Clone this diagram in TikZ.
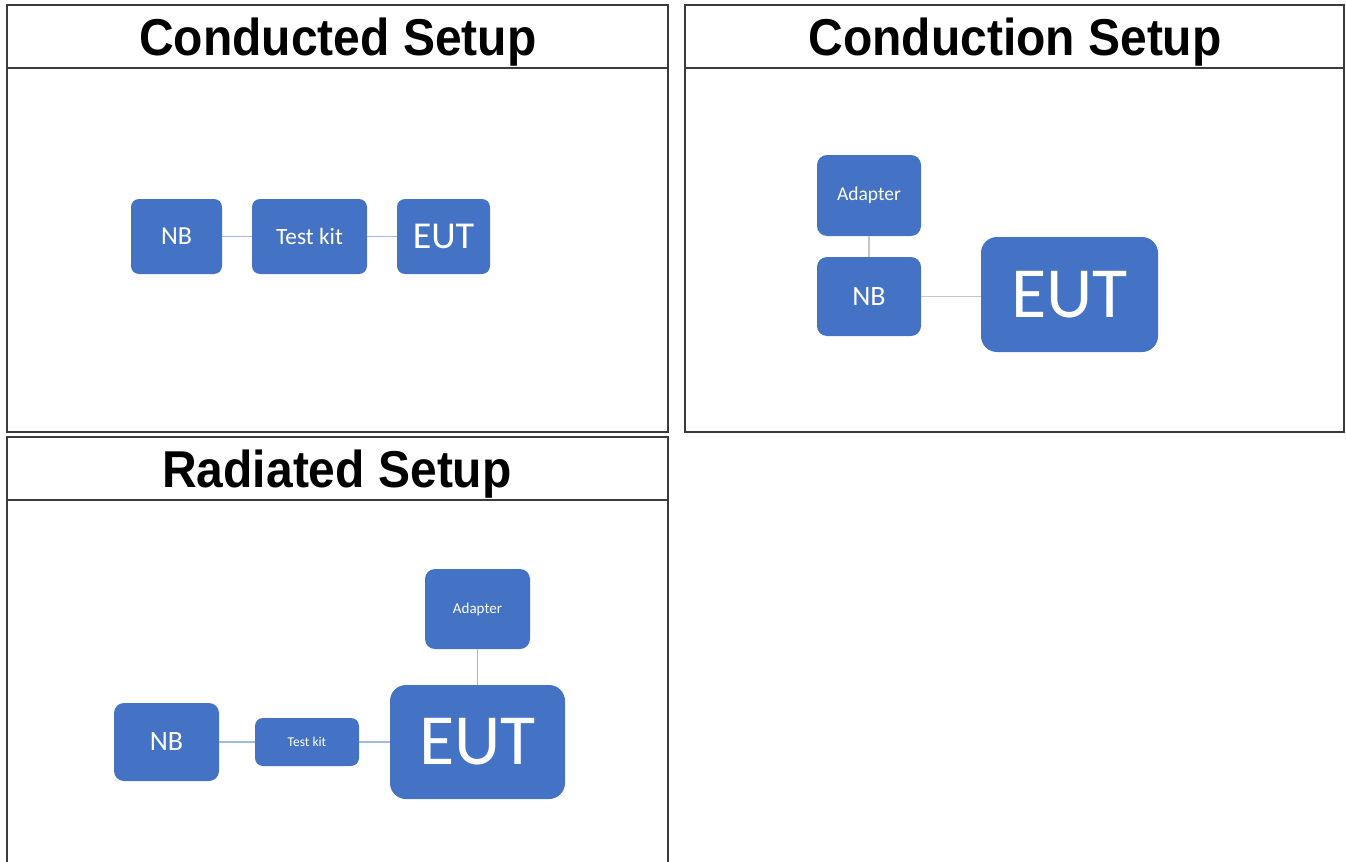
\documentclass[tikz,border=0pt]{standalone}
\usepackage{fontspec}
\setmainfont{Carlito}
\newfontfamily\titlefont{Liberation Sans}
\usetikzlibrary{positioning}

\definecolor{boxblue}{HTML}{4472C4}
\definecolor{linkblue}{HTML}{A3B8E2}
\definecolor{linkgrey}{HTML}{C6C6C6}
\definecolor{framegrey}{HTML}{3A3A3A}

% font size in pt
\newcommand{\fsz}[1]{\fontsize{#1}{#1}\selectfont}

\begin{document}
\begin{tikzpicture}[x=0.5pt, y=-0.5pt,
    frame/.style={draw=framegrey, line width=1pt},
    heading/.style={font=\titlefont\bfseries\fsz{24}, anchor=base, yscale=1.08},
    unit/.style={fill=boxblue, text=white, rounded corners=5pt, inner sep=0pt},
    link/.style={draw=linkblue, line width=0.9pt},
    greylink/.style={draw=linkgrey, line width=0.9pt}]

    % Fix the page to the size of the reference
    \useasboundingbox (0,0) rectangle (1346,862);

    % Panel frames with their title bars
    \draw[frame] (7,5) rectangle (668,432);
    \draw[frame] (7,68) -- (668,68);
    \draw[frame] (685,5) rectangle (1344,432);
    \draw[frame] (685,68) -- (1344,68);
    \draw[frame] (7,862) -- (7,437) -- (668,437) -- (668,862);
    \draw[frame] (7,500) -- (668,500);

    % Panel titles
    \node[heading] (t1) at (338,55) {Conducted Setup};
    \node[heading] (t2) at (1015,55) {Conduction Setup};
    \node[heading] (t3) at (337,487) {Radiated Setup};

    % Conducted setup: NB -- Test kit -- EUT
    \node[unit, rounded corners=4pt, minimum width=45.5pt, minimum height=37.5pt, font=\fsz{13}] (nba) at (176.5,236.5) {NB};
    \node[unit, rounded corners=4pt, minimum width=57.5pt, minimum height=37.5pt, font=\fsz{11.7}] (kita) at (309.5,236.5) {Test kit};
    \node[unit, rounded corners=4pt, minimum width=46.5pt, minimum height=37.5pt, font=\fsz{19}] (euta) at (443.5,236.5) {EUT};
    \draw[link] (nba) -- (kita);
    \draw[link] (kita) -- (euta);

    % Conduction setup: Adapter on NB, NB to EUT
    \node[unit, minimum width=52pt, minimum height=40.5pt, font=\fsz{9.75}] (adpb) at (869,195.5) {Adapter};
    \node[unit, minimum width=52pt, minimum height=39.5pt, font=\fsz{14}] (nbb) at (869,296.5) {NB};
    \node[unit, rounded corners=8pt, minimum width=88.5pt, minimum height=57.5pt, font=\fsz{36}] (eutb) at (1069.5,294.5) {EUT};
    \draw[greylink] (adpb) -- (nbb);
    \draw[greylink] (nbb.east) -- (nbb.east -| eutb.west);

    % Radiated setup: NB -- Test kit -- EUT, Adapter above EUT
    \node[unit, minimum width=52.5pt, minimum height=40pt, font=\fsz{7.5}] (adpc) at (477.5,609) {Adapter};
    \node[unit, rounded corners=8pt, minimum width=87.5pt, minimum height=57pt, font=\fsz{36}] (eutc) at (477.5,742) {EUT};
    \node[unit, minimum width=52.5pt, minimum height=39pt, font=\fsz{14}] (nbc) at (166.5,742) {NB};
    \node[unit, rounded corners=4pt, minimum width=52pt, minimum height=24pt, font=\fsz{6.75}] (kitc) at (307,742) {Test kit};
    \draw[link] (nbc) -- (kitc);
    \draw[link] (kitc) -- (eutc);
    \draw[link] (adpc) -- (eutc);

\end{tikzpicture}
\end{document}
